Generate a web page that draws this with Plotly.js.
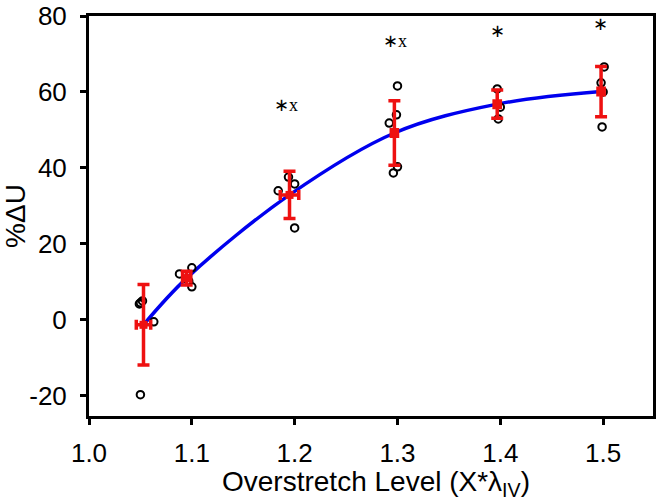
<!DOCTYPE html>
<html>
<head>
<meta charset="utf-8">
<script src="https://cdn.plot.ly/plotly-3.0.1.min.js"></script>
<style>
  html, body { margin: 0; padding: 0; background: #fff; }
  #plot { width: 661px; height: 503px; }
</style>
</head>
<body>
<div id="plot"></div>
<script>
// individual samples (open circles)
const ptX = [1.050, 1.052, 1.049, 1.063, 1.050,
             1.088, 1.100, 1.100, 1.097,
             1.184, 1.194, 1.200, 1.200,
             1.300, 1.299, 1.292, 1.300, 1.296,
             1.397, 1.398, 1.400,
             1.501, 1.498, 1.499, 1.500];
const ptY = [4.5, 5.0, 4.2, -0.5, -19.7,
             12.1, 13.7, 8.7, 10.2,
             34.0, 37.6, 35.8, 24.2,
             61.6, 54.0, 51.8, 40.3, 38.7,
             60.8, 52.9, 56.0,
             66.6, 62.4, 50.8, 60.0];

// group means with error bars
const meanX = [1.053, 1.095, 1.195, 1.297, 1.397, 1.498];
const meanY = [-1.3, 11.0, 32.9, 49.2, 56.8, 60.1];
const errY = [10.6, 1.8, 6.2, 8.5, 3.7, 6.6];
const errX = [0.007, 0.004, 0.009, 0.003, 0.003, 0.003];

// significance marks
const sigX = [1.192, 1.298, 1.397, 1.497];
const sigY = [56.5, 73.5, 76.0, 77.8];
const sigText = ['∗x', '∗x', '∗', '∗'];

// tick labels
const xTicks = [1.0, 1.1, 1.2, 1.3, 1.4, 1.5];
const xTickText = ['1.0', '1.1', '1.2', '1.3', '1.4', '1.5'];
const yTicks = [-20, 0, 20, 40, 60, 80];
const yTickText = ['-20', '0', '20', '40', '60', '80'];

const traces = [
    {
        x: meanX,
        y: meanY,
        mode: 'lines',
        type: 'scatter',
        line: { color: '#0000ee', width: 3.5, shape: 'spline', smoothing: 1 },
        hoverinfo: 'skip'
    },
    {
        x: ptX,
        y: ptY,
        mode: 'markers',
        type: 'scatter',
        marker: { symbol: 'circle-open', color: '#000', size: 7.5, line: { width: 2, color: '#000' } }
    },
    {
        x: meanX,
        y: meanY,
        mode: 'markers',
        type: 'scatter',
        marker: { symbol: 'square', color: '#ee1111', size: 8 },
        error_y: { type: 'data', array: errY, visible: true, color: '#ee1111', thickness: 3.5, width: 6 },
        error_x: { type: 'data', array: errX, visible: true, color: '#ee1111', thickness: 3.5, width: 5 }
    }
];

const tickFont = { family: 'Liberation Sans, Arial, sans-serif', size: 26, color: '#000' };
const titleFont = { family: 'Liberation Sans, Arial, sans-serif', size: 28, color: '#000' };

const annotations = sigText.map((t, i) => ({
    x: sigX[i],
    y: sigY[i],
    text: t,
    showarrow: false,
    font: { family: 'Liberation Serif, serif', size: 18, color: '#000' }
}));

// x axis title drawn as a paper annotation so it sits below the tick labels
annotations.push({
    xref: 'paper',
    yref: 'paper',
    x: 0.509,
    y: -0.168,
    yanchor: 'middle',
    text: 'Overstretch Level (X*λ<sub>IV</sub>)',
    showarrow: false,
    font: titleFont
});

const layout = {
    width: 661,
    height: 503,
    margin: { l: 89, r: 8, t: 16, b: 87 },
    paper_bgcolor: '#fff',
    plot_bgcolor: '#fff',
    showlegend: false,
    annotations: annotations,
    xaxis: {
        range: [1.0, 1.5485],
        tickvals: xTicks,
        ticktext: xTickText,
        showgrid: false,
        zeroline: false,
        showline: true,
        mirror: true,
        linecolor: '#000',
        linewidth: 3,
        ticks: 'outside',
        ticklen: 6,
        tickwidth: 3,
        tickcolor: '#000',
        tickfont: tickFont,
        ticklabelstandoff: 6
    },
    yaxis: {
        range: [-25.3, 80],
        tickvals: yTicks,
        ticktext: yTickText,
        showgrid: false,
        zeroline: false,
        showline: true,
        mirror: true,
        linecolor: '#000',
        linewidth: 3,
        ticks: 'outside',
        ticklen: 6,
        tickwidth: 3,
        tickcolor: '#000',
        tickfont: tickFont,
        ticklabelstandoff: 8,
        title: { text: '%ΔU', font: titleFont, standoff: 6 }
    }
};

Plotly.newPlot('plot', traces, layout, { staticPlot: true });
</script>
</body>
</html>
